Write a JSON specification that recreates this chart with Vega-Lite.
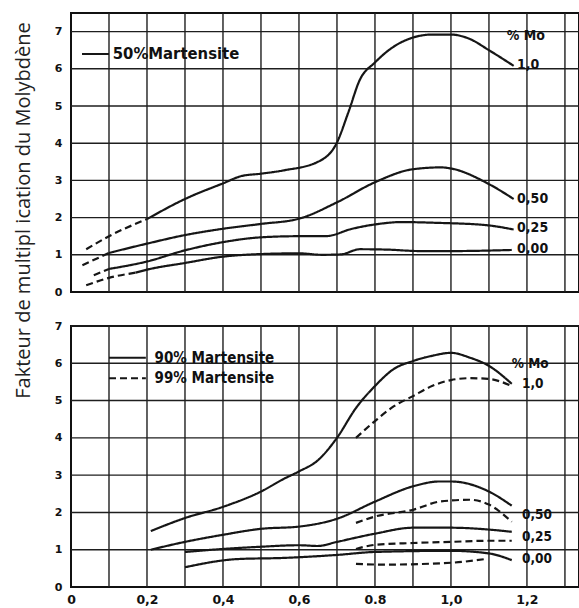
{
  "$schema": "https://vega.github.io/schema/vega-lite/v6.json",
  "background": "white",
  "padding": {"left": 11, "top": 11, "right": 4, "bottom": 4},
  "spacing": 34,
  "bounds": "flush",
  "config": {
    "view": {"stroke": "#111", "strokeWidth": 2},
    "axis": {
      "grid": false, "ticks": false, "domain": false,
      "labelFont": "DejaVu Sans", "labelFontWeight": "bold", "labelFontSize": 11, "labelColor": "#111",
      "titleFont": "Open Sans", "titleFontWeight": "normal", "titleFontSize": 20, "titleColor": "#222"
    },
    "text": {"font": "DejaVu Sans Condensed", "fontWeight": "bold", "fontSize": 13.5, "color": "#111", "align": "left", "baseline": "middle"}
  },
  "datasets": {
    "gridx": [
      {"x": 0.1}, {"x": 0.2}, {"x": 0.3}, {"x": 0.4}, {"x": 0.5}, {"x": 0.6}, {"x": 0.7},
      {"x": 0.8}, {"x": 0.9}, {"x": 1.0}, {"x": 1.1}, {"x": 1.2}, {"x": 1.3}
    ],
    "gridy": [
      {"y": 1}, {"y": 2}, {"y": 3}, {"y": 4}, {"y": 5}, {"y": 6}, {"y": 7}
    ],
    "curves": [
      {"p": "top", "g": "t10d", "s": "dashed", "x": 0.04, "y": 1.15},
      {"p": "top", "g": "t10d", "s": "dashed", "x": 0.1, "y": 1.5},
      {"p": "top", "g": "t10d", "s": "dashed", "x": 0.2, "y": 1.96},
      {"p": "top", "g": "t10", "s": "solid", "x": 0.2, "y": 1.96},
      {"p": "top", "g": "t10", "s": "solid", "x": 0.3, "y": 2.5},
      {"p": "top", "g": "t10", "s": "solid", "x": 0.4, "y": 2.92},
      {"p": "top", "g": "t10", "s": "solid", "x": 0.45, "y": 3.12},
      {"p": "top", "g": "t10", "s": "solid", "x": 0.5, "y": 3.18},
      {"p": "top", "g": "t10", "s": "solid", "x": 0.56, "y": 3.27},
      {"p": "top", "g": "t10", "s": "solid", "x": 0.65, "y": 3.5},
      {"p": "top", "g": "t10", "s": "solid", "x": 0.7, "y": 4.02},
      {"p": "top", "g": "t10", "s": "solid", "x": 0.73, "y": 4.83},
      {"p": "top", "g": "t10", "s": "solid", "x": 0.76, "y": 5.7},
      {"p": "top", "g": "t10", "s": "solid", "x": 0.8, "y": 6.17},
      {"p": "top", "g": "t10", "s": "solid", "x": 0.85, "y": 6.6},
      {"p": "top", "g": "t10", "s": "solid", "x": 0.9, "y": 6.84},
      {"p": "top", "g": "t10", "s": "solid", "x": 0.95, "y": 6.92},
      {"p": "top", "g": "t10", "s": "solid", "x": 1.0, "y": 6.92},
      {"p": "top", "g": "t10", "s": "solid", "x": 1.05, "y": 6.8},
      {"p": "top", "g": "t10", "s": "solid", "x": 1.1, "y": 6.5},
      {"p": "top", "g": "t10", "s": "solid", "x": 1.165, "y": 6.08},

      {"p": "top", "g": "t05d", "s": "dashed", "x": 0.03, "y": 0.72},
      {"p": "top", "g": "t05d", "s": "dashed", "x": 0.1, "y": 1.05},
      {"p": "top", "g": "t05", "s": "solid", "x": 0.1, "y": 1.05},
      {"p": "top", "g": "t05", "s": "solid", "x": 0.2, "y": 1.3},
      {"p": "top", "g": "t05", "s": "solid", "x": 0.3, "y": 1.53},
      {"p": "top", "g": "t05", "s": "solid", "x": 0.4, "y": 1.7},
      {"p": "top", "g": "t05", "s": "solid", "x": 0.5, "y": 1.83},
      {"p": "top", "g": "t05", "s": "solid", "x": 0.6, "y": 1.97},
      {"p": "top", "g": "t05", "s": "solid", "x": 0.7, "y": 2.41},
      {"p": "top", "g": "t05", "s": "solid", "x": 0.8, "y": 2.95},
      {"p": "top", "g": "t05", "s": "solid", "x": 0.9, "y": 3.3},
      {"p": "top", "g": "t05", "s": "solid", "x": 0.975, "y": 3.35},
      {"p": "top", "g": "t05", "s": "solid", "x": 1.0, "y": 3.32},
      {"p": "top", "g": "t05", "s": "solid", "x": 1.1, "y": 2.9},
      {"p": "top", "g": "t05", "s": "solid", "x": 1.165, "y": 2.5},

      {"p": "top", "g": "t025d", "s": "dashed", "x": 0.06, "y": 0.45},
      {"p": "top", "g": "t025d", "s": "dashed", "x": 0.1, "y": 0.62},
      {"p": "top", "g": "t025", "s": "solid", "x": 0.1, "y": 0.62},
      {"p": "top", "g": "t025", "s": "solid", "x": 0.2, "y": 0.82},
      {"p": "top", "g": "t025", "s": "solid", "x": 0.3, "y": 1.12},
      {"p": "top", "g": "t025", "s": "solid", "x": 0.4, "y": 1.34},
      {"p": "top", "g": "t025", "s": "solid", "x": 0.5, "y": 1.47},
      {"p": "top", "g": "t025", "s": "solid", "x": 0.6, "y": 1.5},
      {"p": "top", "g": "t025", "s": "solid", "x": 0.67, "y": 1.5},
      {"p": "top", "g": "t025", "s": "solid", "x": 0.74, "y": 1.7},
      {"p": "top", "g": "t025", "s": "solid", "x": 0.81, "y": 1.83},
      {"p": "top", "g": "t025", "s": "solid", "x": 0.87, "y": 1.88},
      {"p": "top", "g": "t025", "s": "solid", "x": 0.96, "y": 1.86},
      {"p": "top", "g": "t025", "s": "solid", "x": 1.09, "y": 1.8},
      {"p": "top", "g": "t025", "s": "solid", "x": 1.165, "y": 1.68},

      {"p": "top", "g": "t00d", "s": "dashed", "x": 0.04, "y": 0.18},
      {"p": "top", "g": "t00d", "s": "dashed", "x": 0.1, "y": 0.38},
      {"p": "top", "g": "t00d", "s": "dashed", "x": 0.17, "y": 0.52},
      {"p": "top", "g": "t00", "s": "solid", "x": 0.17, "y": 0.52},
      {"p": "top", "g": "t00", "s": "solid", "x": 0.2, "y": 0.6},
      {"p": "top", "g": "t00", "s": "solid", "x": 0.3, "y": 0.78},
      {"p": "top", "g": "t00", "s": "solid", "x": 0.4, "y": 0.95},
      {"p": "top", "g": "t00", "s": "solid", "x": 0.5, "y": 1.02},
      {"p": "top", "g": "t00", "s": "solid", "x": 0.6, "y": 1.04},
      {"p": "top", "g": "t00", "s": "solid", "x": 0.66, "y": 1.0},
      {"p": "top", "g": "t00", "s": "solid", "x": 0.71, "y": 1.01},
      {"p": "top", "g": "t00", "s": "solid", "x": 0.76, "y": 1.15},
      {"p": "top", "g": "t00", "s": "solid", "x": 0.83, "y": 1.14},
      {"p": "top", "g": "t00", "s": "solid", "x": 0.92, "y": 1.1},
      {"p": "top", "g": "t00", "s": "solid", "x": 1.0, "y": 1.1},
      {"p": "top", "g": "t00", "s": "solid", "x": 1.16, "y": 1.13},

      {"p": "bottom", "g": "b90_10", "s": "solid", "x": 0.21, "y": 1.5},
      {"p": "bottom", "g": "b90_10", "s": "solid", "x": 0.3, "y": 1.85},
      {"p": "bottom", "g": "b90_10", "s": "solid", "x": 0.4, "y": 2.15},
      {"p": "bottom", "g": "b90_10", "s": "solid", "x": 0.5, "y": 2.56},
      {"p": "bottom", "g": "b90_10", "s": "solid", "x": 0.56, "y": 2.9},
      {"p": "bottom", "g": "b90_10", "s": "solid", "x": 0.6, "y": 3.1},
      {"p": "bottom", "g": "b90_10", "s": "solid", "x": 0.65, "y": 3.4},
      {"p": "bottom", "g": "b90_10", "s": "solid", "x": 0.7, "y": 4.0},
      {"p": "bottom", "g": "b90_10", "s": "solid", "x": 0.75, "y": 4.8},
      {"p": "bottom", "g": "b90_10", "s": "solid", "x": 0.8, "y": 5.39},
      {"p": "bottom", "g": "b90_10", "s": "solid", "x": 0.85, "y": 5.85},
      {"p": "bottom", "g": "b90_10", "s": "solid", "x": 0.9, "y": 6.06},
      {"p": "bottom", "g": "b90_10", "s": "solid", "x": 0.95, "y": 6.2},
      {"p": "bottom", "g": "b90_10", "s": "solid", "x": 1.0, "y": 6.28},
      {"p": "bottom", "g": "b90_10", "s": "solid", "x": 1.05, "y": 6.15},
      {"p": "bottom", "g": "b90_10", "s": "solid", "x": 1.1, "y": 5.93},
      {"p": "bottom", "g": "b90_10", "s": "solid", "x": 1.16, "y": 5.45},

      {"p": "bottom", "g": "b99_10", "s": "dashed", "x": 0.75, "y": 4.0},
      {"p": "bottom", "g": "b99_10", "s": "dashed", "x": 0.8, "y": 4.45},
      {"p": "bottom", "g": "b99_10", "s": "dashed", "x": 0.85, "y": 4.85},
      {"p": "bottom", "g": "b99_10", "s": "dashed", "x": 0.9, "y": 5.12},
      {"p": "bottom", "g": "b99_10", "s": "dashed", "x": 0.95, "y": 5.39},
      {"p": "bottom", "g": "b99_10", "s": "dashed", "x": 1.0, "y": 5.55},
      {"p": "bottom", "g": "b99_10", "s": "dashed", "x": 1.05, "y": 5.6},
      {"p": "bottom", "g": "b99_10", "s": "dashed", "x": 1.1, "y": 5.58},
      {"p": "bottom", "g": "b99_10", "s": "dashed", "x": 1.16, "y": 5.39},

      {"p": "bottom", "g": "b90_05", "s": "solid", "x": 0.21, "y": 1.0},
      {"p": "bottom", "g": "b90_05", "s": "solid", "x": 0.3, "y": 1.21},
      {"p": "bottom", "g": "b90_05", "s": "solid", "x": 0.4, "y": 1.4},
      {"p": "bottom", "g": "b90_05", "s": "solid", "x": 0.5, "y": 1.56},
      {"p": "bottom", "g": "b90_05", "s": "solid", "x": 0.6, "y": 1.62},
      {"p": "bottom", "g": "b90_05", "s": "solid", "x": 0.7, "y": 1.83},
      {"p": "bottom", "g": "b90_05", "s": "solid", "x": 0.8, "y": 2.29},
      {"p": "bottom", "g": "b90_05", "s": "solid", "x": 0.9, "y": 2.7},
      {"p": "bottom", "g": "b90_05", "s": "solid", "x": 0.97, "y": 2.83},
      {"p": "bottom", "g": "b90_05", "s": "solid", "x": 1.0, "y": 2.83},
      {"p": "bottom", "g": "b90_05", "s": "solid", "x": 1.1, "y": 2.56},
      {"p": "bottom", "g": "b90_05", "s": "solid", "x": 1.16, "y": 2.18},

      {"p": "bottom", "g": "b99_05", "s": "dashed", "x": 0.75, "y": 1.72},
      {"p": "bottom", "g": "b99_05", "s": "dashed", "x": 0.8, "y": 1.89},
      {"p": "bottom", "g": "b99_05", "s": "dashed", "x": 0.9, "y": 2.07},
      {"p": "bottom", "g": "b99_05", "s": "dashed", "x": 0.97, "y": 2.29},
      {"p": "bottom", "g": "b99_05", "s": "dashed", "x": 1.05, "y": 2.34},
      {"p": "bottom", "g": "b99_05", "s": "dashed", "x": 1.1, "y": 2.21},
      {"p": "bottom", "g": "b99_05", "s": "dashed", "x": 1.16, "y": 1.75},

      {"p": "bottom", "g": "b90_025", "s": "solid", "x": 0.3, "y": 0.94},
      {"p": "bottom", "g": "b90_025", "s": "solid", "x": 0.4, "y": 1.02},
      {"p": "bottom", "g": "b90_025", "s": "solid", "x": 0.5, "y": 1.08},
      {"p": "bottom", "g": "b90_025", "s": "solid", "x": 0.6, "y": 1.12},
      {"p": "bottom", "g": "b90_025", "s": "solid", "x": 0.65, "y": 1.1},
      {"p": "bottom", "g": "b90_025", "s": "solid", "x": 0.7, "y": 1.21},
      {"p": "bottom", "g": "b90_025", "s": "solid", "x": 0.8, "y": 1.43},
      {"p": "bottom", "g": "b90_025", "s": "solid", "x": 0.9, "y": 1.59},
      {"p": "bottom", "g": "b90_025", "s": "solid", "x": 1.0, "y": 1.59},
      {"p": "bottom", "g": "b90_025", "s": "solid", "x": 1.1, "y": 1.54},
      {"p": "bottom", "g": "b90_025", "s": "solid", "x": 1.16, "y": 1.48},

      {"p": "bottom", "g": "b99_025", "s": "dashed", "x": 0.75, "y": 1.02},
      {"p": "bottom", "g": "b99_025", "s": "dashed", "x": 0.8, "y": 1.13},
      {"p": "bottom", "g": "b99_025", "s": "dashed", "x": 0.9, "y": 1.18},
      {"p": "bottom", "g": "b99_025", "s": "dashed", "x": 1.0, "y": 1.21},
      {"p": "bottom", "g": "b99_025", "s": "dashed", "x": 1.1, "y": 1.24},
      {"p": "bottom", "g": "b99_025", "s": "dashed", "x": 1.16, "y": 1.24},

      {"p": "bottom", "g": "b90_00", "s": "solid", "x": 0.3, "y": 0.53},
      {"p": "bottom", "g": "b90_00", "s": "solid", "x": 0.44, "y": 0.75},
      {"p": "bottom", "g": "b90_00", "s": "solid", "x": 0.56, "y": 0.78},
      {"p": "bottom", "g": "b90_00", "s": "solid", "x": 0.7, "y": 0.86},
      {"p": "bottom", "g": "b90_00", "s": "solid", "x": 0.8, "y": 0.94},
      {"p": "bottom", "g": "b90_00", "s": "solid", "x": 1.0, "y": 0.97},
      {"p": "bottom", "g": "b90_00", "s": "solid", "x": 1.1, "y": 0.9},
      {"p": "bottom", "g": "b90_00", "s": "solid", "x": 1.16, "y": 0.72},

      {"p": "bottom", "g": "b99_00", "s": "dashed", "x": 0.75, "y": 0.62},
      {"p": "bottom", "g": "b99_00", "s": "dashed", "x": 0.82, "y": 0.6},
      {"p": "bottom", "g": "b99_00", "s": "dashed", "x": 1.0, "y": 0.65},
      {"p": "bottom", "g": "b99_00", "s": "dashed", "x": 1.09, "y": 0.75}
    ],
    "labels": [
      {"p": "top", "x": 1.147, "y": 6.89, "t": "% Mo"},
      {"p": "top", "x": 1.174, "y": 6.09, "t": "1,0"},
      {"p": "top", "x": 1.174, "y": 2.5, "t": "0,50"},
      {"p": "top", "x": 1.174, "y": 1.72, "t": "0,25"},
      {"p": "top", "x": 1.174, "y": 1.15, "t": "0,00"},
      {"p": "bottom", "x": 1.16, "y": 5.98, "t": "% Mo"},
      {"p": "bottom", "x": 1.187, "y": 5.44, "t": "1,0"},
      {"p": "bottom", "x": 1.187, "y": 1.94, "t": "0,50"},
      {"p": "bottom", "x": 1.187, "y": 1.35, "t": "0,25"},
      {"p": "bottom", "x": 1.187, "y": 0.75, "t": "0,00"}
    ],
    "legendText": [
      {"p": "top", "x": 0.11, "y": 6.4, "t": "50%Martensite"},
      {"p": "bottom", "x": 0.22, "y": 6.15, "t": "90% Martensite"},
      {"p": "bottom", "x": 0.22, "y": 5.6, "t": "99% Martensite"}
    ],
    "keys": [
      {"p": "top", "x": 0.029, "x2": 0.1, "y": 6.4, "s": "solid"},
      {"p": "bottom", "x": 0.1, "x2": 0.197, "y": 6.15, "s": "solid"},
      {"p": "bottom", "x": 0.1, "x2": 0.197, "y": 5.6, "s": "dashed"}
    ]
  },
  "vconcat": [
    {
      "width": 508,
      "height": 279,
      "layer": [
        {
          "data": {"name": "gridx"},
          "mark": {"type": "rule", "color": "#1e1e1e", "strokeWidth": 1.4},
          "encoding": {
            "x": {"field": "x", "type": "quantitative", "scale": {"domain": [0, 1.337], "nice": false, "zero": false},
              "axis": {"values": [0.1, 0.5, 1.0], "labels": false, "title": null}}
          }
        },
        {
          "data": {"name": "gridy"},
          "mark": {"type": "rule", "color": "#1e1e1e", "strokeWidth": 1.4},
          "encoding": {
            "y": {"field": "y", "type": "quantitative", "scale": {"domain": [0, 7.5], "nice": false, "zero": false},
              "axis": {"values": [0, 1, 2, 3, 4, 5, 6, 7], "labelPadding": 9,
                "title": "Fakteur de multipl ication du Molybdène", "titleAngle": 270, "titleAlign": "center",
                "titleBaseline": "alphabetic", "titleX": -42, "titleY": 197}}
          }
        },
        {
          "data": {"name": "curves"},
          "transform": [{"filter": "datum.p == 'top'"}],
          "mark": {"type": "line", "interpolate": "monotone", "strokeWidth": 2.2, "color": "#161616"},
          "encoding": {
            "x": {"field": "x", "type": "quantitative", "scale": {"domain": [0, 1.337], "nice": false, "zero": false},
              "axis": {"values": [0.1, 0.5, 1.0], "labels": false, "title": null}},
            "y": {"field": "y", "type": "quantitative", "scale": {"domain": [0, 7.5], "nice": false, "zero": false},
              "axis": {"values": [0, 1, 2, 3, 4, 5, 6, 7], "labelPadding": 9,
                "title": "Fakteur de multipl ication du Molybdène", "titleAngle": 270, "titleAlign": "center",
                "titleBaseline": "alphabetic", "titleX": -42, "titleY": 197}},
            "detail": {"field": "g", "type": "nominal"},
            "strokeDash": {"field": "s", "type": "nominal", "scale": {"domain": ["solid", "dashed"], "range": [[1, 0], [7, 4]]}, "legend": null}
          }
        },
        {
          "data": {"name": "keys"},
          "transform": [{"filter": "datum.p == 'top'"}],
          "mark": {"type": "rule", "strokeWidth": 2, "color": "#161616"},
          "encoding": {
            "x": {"field": "x", "type": "quantitative", "scale": {"domain": [0, 1.337], "nice": false, "zero": false},
              "axis": {"values": [0.1, 0.5, 1.0], "labels": false, "title": null}},
            "x2": {"field": "x2"},
            "y": {"field": "y", "type": "quantitative", "scale": {"domain": [0, 7.5], "nice": false, "zero": false},
              "axis": {"values": [0, 1, 2, 3, 4, 5, 6, 7], "labelPadding": 9,
                "title": "Fakteur de multipl ication du Molybdène", "titleAngle": 270, "titleAlign": "center",
                "titleBaseline": "alphabetic", "titleX": -42, "titleY": 197}},
            "strokeDash": {"field": "s", "type": "nominal", "scale": {"domain": ["solid", "dashed"], "range": [[1, 0], [7, 4]]}, "legend": null}
          }
        },
        {
          "data": {"name": "labels"},
          "transform": [{"filter": "datum.p == 'top'"}],
          "mark": {"type": "text", "fontSize": 14},
          "encoding": {
            "x": {"field": "x", "type": "quantitative", "scale": {"domain": [0, 1.337], "nice": false, "zero": false},
              "axis": {"values": [0.1, 0.5, 1.0], "labels": false, "title": null}},
            "y": {"field": "y", "type": "quantitative", "scale": {"domain": [0, 7.5], "nice": false, "zero": false},
              "axis": {"values": [0, 1, 2, 3, 4, 5, 6, 7], "labelPadding": 9,
                "title": "Fakteur de multipl ication du Molybdène", "titleAngle": 270, "titleAlign": "center",
                "titleBaseline": "alphabetic", "titleX": -42, "titleY": 197}},
            "text": {"field": "t"}
          }
        },
        {
          "data": {"name": "legendText"},
          "transform": [{"filter": "datum.p == 'top'"}],
          "mark": {"type": "text", "fontSize": 16.5},
          "encoding": {
            "x": {"field": "x", "type": "quantitative", "scale": {"domain": [0, 1.337], "nice": false, "zero": false},
              "axis": {"values": [0.1, 0.5, 1.0], "labels": false, "title": null}},
            "y": {"field": "y", "type": "quantitative", "scale": {"domain": [0, 7.5], "nice": false, "zero": false},
              "axis": {"values": [0, 1, 2, 3, 4, 5, 6, 7], "labelPadding": 9,
                "title": "Fakteur de multipl ication du Molybdène", "titleAngle": 270, "titleAlign": "center",
                "titleBaseline": "alphabetic", "titleX": -42, "titleY": 197}},
            "text": {"field": "t"}
          }
        }
      ]
    },
    {
      "width": 508,
      "height": 261,
      "layer": [
        {
          "data": {"name": "gridx"},
          "mark": {"type": "rule", "color": "#1e1e1e", "strokeWidth": 1.4},
          "encoding": {
            "x": {"field": "x", "type": "quantitative", "scale": {"domain": [0, 1.337], "nice": false, "zero": false},
              "axis": {"values": [0, 0.2, 0.4, 0.6, 0.8, 1.0, 1.2],
                "labelExpr": "datum.value == 0 ? '0' : datum.value == 0.8 ? '0.8' : replace(format(datum.value, '.1f'), '.', ',')",
                "labelFontSize": 12.5, "labelPadding": 6, "labelOverlap": false, "labelFlush": false, "title": null}}
          }
        },
        {
          "data": {"name": "gridy"},
          "mark": {"type": "rule", "color": "#1e1e1e", "strokeWidth": 1.4},
          "encoding": {
            "y": {"field": "y", "type": "quantitative", "scale": {"domain": [0, 7], "nice": false, "zero": false},
              "axis": {"values": [0, 1, 2, 3, 4, 5, 6, 7], "labelPadding": 9, "title": null}}
          }
        },
        {
          "data": {"name": "curves"},
          "transform": [{"filter": "datum.p == 'bottom'"}],
          "mark": {"type": "line", "interpolate": "monotone", "strokeWidth": 2.2, "color": "#161616"},
          "encoding": {
            "x": {"field": "x", "type": "quantitative", "scale": {"domain": [0, 1.337], "nice": false, "zero": false},
              "axis": {"values": [0, 0.2, 0.4, 0.6, 0.8, 1.0, 1.2],
                "labelExpr": "datum.value == 0 ? '0' : datum.value == 0.8 ? '0.8' : replace(format(datum.value, '.1f'), '.', ',')",
                "labelFontSize": 12.5, "labelPadding": 6, "labelOverlap": false, "labelFlush": false, "title": null}},
            "y": {"field": "y", "type": "quantitative", "scale": {"domain": [0, 7], "nice": false, "zero": false},
              "axis": {"values": [0, 1, 2, 3, 4, 5, 6, 7], "labelPadding": 9, "title": null}},
            "detail": {"field": "g", "type": "nominal"},
            "strokeDash": {"field": "s", "type": "nominal", "scale": {"domain": ["solid", "dashed"], "range": [[1, 0], [7, 4]]}, "legend": null}
          }
        },
        {
          "data": {"name": "keys"},
          "transform": [{"filter": "datum.p == 'bottom'"}],
          "mark": {"type": "rule", "strokeWidth": 2, "color": "#161616"},
          "encoding": {
            "x": {"field": "x", "type": "quantitative", "scale": {"domain": [0, 1.337], "nice": false, "zero": false},
              "axis": {"values": [0, 0.2, 0.4, 0.6, 0.8, 1.0, 1.2],
                "labelExpr": "datum.value == 0 ? '0' : datum.value == 0.8 ? '0.8' : replace(format(datum.value, '.1f'), '.', ',')",
                "labelFontSize": 12.5, "labelPadding": 6, "labelOverlap": false, "labelFlush": false, "title": null}},
            "x2": {"field": "x2"},
            "y": {"field": "y", "type": "quantitative", "scale": {"domain": [0, 7], "nice": false, "zero": false},
              "axis": {"values": [0, 1, 2, 3, 4, 5, 6, 7], "labelPadding": 9, "title": null}},
            "strokeDash": {"field": "s", "type": "nominal", "scale": {"domain": ["solid", "dashed"], "range": [[1, 0], [7, 4]]}, "legend": null}
          }
        },
        {
          "data": {"name": "labels"},
          "transform": [{"filter": "datum.p == 'bottom'"}],
          "mark": {"type": "text", "fontSize": 13.5},
          "encoding": {
            "x": {"field": "x", "type": "quantitative", "scale": {"domain": [0, 1.337], "nice": false, "zero": false},
              "axis": {"values": [0, 0.2, 0.4, 0.6, 0.8, 1.0, 1.2],
                "labelExpr": "datum.value == 0 ? '0' : datum.value == 0.8 ? '0.8' : replace(format(datum.value, '.1f'), '.', ',')",
                "labelFontSize": 12.5, "labelPadding": 6, "labelOverlap": false, "labelFlush": false, "title": null}},
            "y": {"field": "y", "type": "quantitative", "scale": {"domain": [0, 7], "nice": false, "zero": false},
              "axis": {"values": [0, 1, 2, 3, 4, 5, 6, 7], "labelPadding": 9, "title": null}},
            "text": {"field": "t"}
          }
        },
        {
          "data": {"name": "legendText"},
          "transform": [{"filter": "datum.p == 'bottom'"}],
          "mark": {"type": "text", "fontSize": 15},
          "encoding": {
            "x": {"field": "x", "type": "quantitative", "scale": {"domain": [0, 1.337], "nice": false, "zero": false},
              "axis": {"values": [0, 0.2, 0.4, 0.6, 0.8, 1.0, 1.2],
                "labelExpr": "datum.value == 0 ? '0' : datum.value == 0.8 ? '0.8' : replace(format(datum.value, '.1f'), '.', ',')",
                "labelFontSize": 12.5, "labelPadding": 6, "labelOverlap": false, "labelFlush": false, "title": null}},
            "y": {"field": "y", "type": "quantitative", "scale": {"domain": [0, 7], "nice": false, "zero": false},
              "axis": {"values": [0, 1, 2, 3, 4, 5, 6, 7], "labelPadding": 9, "title": null}},
            "text": {"field": "t"}
          }
        }
      ]
    }
  ]
}
